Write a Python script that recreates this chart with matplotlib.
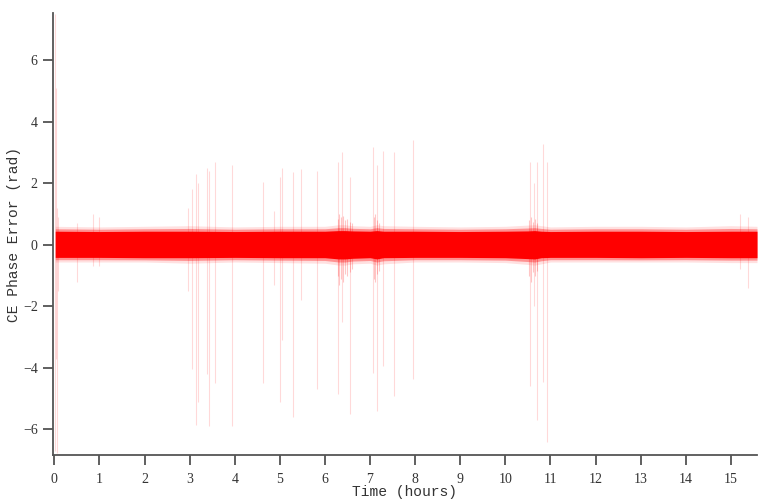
import matplotlib
matplotlib.use("Agg")
import matplotlib.pyplot as plt

# ---- data ----
# envelope of the dense noise band (hours, rad)
env_t = [0.02, 1.0, 2.0, 3.0, 4.0, 5.0, 6.0, 6.3, 6.45, 6.6, 7.0, 7.15, 7.3, 8.0, 9.0, 10.0, 10.5, 10.65, 10.8, 11.0, 12.0, 13.0, 14.0, 15.0, 15.58]
core_hi = [0.44, 0.43, 0.44, 0.44, 0.43, 0.44, 0.44, 0.46, 0.46, 0.45, 0.44, 0.46, 0.44, 0.44, 0.43, 0.44, 0.45, 0.46, 0.44, 0.43, 0.44, 0.44, 0.43, 0.44, 0.44]
core_lo = [-0.41, -0.41, -0.42, -0.42, -0.41, -0.42, -0.42, -0.46, -0.46, -0.44, -0.42, -0.46, -0.42, -0.41, -0.41, -0.42, -0.45, -0.46, -0.42, -0.41, -0.41, -0.42, -0.41, -0.42, -0.42]
fringe_hi = [0.60, 0.58, 0.60, 0.62, 0.58, 0.60, 0.60, 0.65, 0.65, 0.62, 0.60, 0.65, 0.62, 0.60, 0.58, 0.60, 0.64, 0.65, 0.62, 0.58, 0.60, 0.60, 0.58, 0.62, 0.60]
fringe_lo = [-0.56, -0.56, -0.56, -0.60, -0.56, -0.58, -0.60, -0.66, -0.66, -0.62, -0.60, -0.66, -0.62, -0.56, -0.56, -0.58, -0.64, -0.66, -0.62, -0.56, -0.56, -0.56, -0.56, -0.58, -0.58]

# isolated spikes: time (h), max (rad), min (rad)
spike_t  = [0.02, 0.03, 0.06, 0.08, 0.50, 0.85, 1.00, 2.97, 3.06, 3.13, 3.19, 3.39, 3.44, 3.57, 3.95,
            4.63, 4.86, 5.01, 5.05, 5.30, 5.48, 5.83, 6.30, 6.38, 6.56, 7.07, 7.16, 7.29, 7.54, 7.96,
            10.55, 10.63, 10.71, 10.84, 10.93, 15.20, 15.39]
spike_hi = [7.50, 5.10, 1.20, 0.90, 0.70, 1.00, 0.90, 1.20, 1.80, 2.30, 2.00, 2.50, 2.40, 2.70, 2.60,
            2.05, 1.10, 2.20, 2.50, 2.35, 2.45, 2.40, 2.70, 3.00, 2.20, 3.17, 2.60, 3.05, 3.00, 3.40,
            2.70, 2.00, 2.70, 3.27, 2.70, 1.00, 0.90]
spike_lo = [-6.70, -3.70, -6.75, -1.50, -1.20, -0.70, -0.70, -1.50, -4.05, -5.85, -5.10, -4.20, -5.90, -4.50, -5.90,
            -4.50, -1.30, -5.10, -3.10, -5.60, -1.80, -4.70, -4.85, -2.50, -5.50, -4.15, -5.40, -3.95, -4.90, -4.35,
            -4.60, -2.00, -5.70, -4.45, -6.40, -0.80, -1.40]

# short bursts where the noise band widens (hours, max, min)
burst_t  = [6.28, 6.32, 6.36, 6.40, 6.44, 6.50, 6.55, 6.60, 7.08, 7.12, 7.16, 7.20, 10.52, 10.57, 10.62, 10.66, 10.70]
burst_hi = [0.85, 1.00, 0.90, 0.95, 0.80, 0.85, 0.75, 0.70, 0.90, 1.00, 0.80, 0.70, 0.80, 0.90, 0.75, 0.85, 0.70]
burst_lo = [-1.00, -1.30, -1.10, -1.20, -0.95, -1.00, -0.90, -0.80, -1.10, -1.20, -0.95, -0.85, -1.00, -1.20, -0.90, -1.00, -0.85]

xticks = list(range(0, 16))
yticks = [-6, -4, -2, 0, 2, 4, 6]

# ---- figure ----
fig = plt.figure(figsize=(7.84, 4.99), dpi=100)
ax = fig.add_axes([53 / 784, 1 - 455 / 499, (757 - 53) / 784, (455 - 13) / 499])

red = "#ff0000"
ax.vlines(spike_t, spike_lo, spike_hi, color=red, alpha=0.15, linewidth=0.8, zorder=1)
ax.vlines(burst_t, burst_lo, burst_hi, color=red, alpha=0.22, linewidth=0.8, zorder=1)
ax.fill_between(env_t, fringe_lo, fringe_hi, color=red, alpha=0.12, linewidth=0, zorder=2)
mid_hi = [(a + b) / 2 for a, b in zip(core_hi, fringe_hi)]
mid_lo = [(a + b) / 2 for a, b in zip(core_lo, fringe_lo)]
ax.fill_between(env_t, mid_lo, mid_hi, color=red, alpha=0.35, linewidth=0, zorder=3)
ax.fill_between(env_t, core_lo, core_hi, color=red, alpha=1.0, linewidth=0, zorder=4)

ax.set_xlim(-0.03, 15.58)
ax.set_ylim(-6.83, 7.53)
ax.set_xticks(xticks)
ax.set_yticks(yticks)
ax.set_yticklabels(["\u22126", "\u22124", "\u22122", "0", "2", "4", "6"])

for s in ["top", "right"]:
    ax.spines[s].set_visible(False)
for s in ["left", "bottom"]:
    ax.spines[s].set_color("#555555")
    ax.spines[s].set_linewidth(1.3)

ax.tick_params(direction="out", length=7, width=1.2, color="#444444",
               labelsize=10, labelcolor="#333333")
ax.tick_params(axis="x", pad=6)
ax.tick_params(axis="y", pad=4)
for lab in ax.get_xticklabels() + ax.get_yticklabels():
    lab.set_fontfamily("Liberation Serif")

ax.set_xlabel("Time (hours)", fontsize=10.5, family="Liberation Mono", color="#333333", labelpad=-1)
ax.set_ylabel("CE Phase Error (rad)", fontsize=10.5, family="Liberation Mono", color="#333333", labelpad=1)

fig.savefig("out.png", dpi=100)
